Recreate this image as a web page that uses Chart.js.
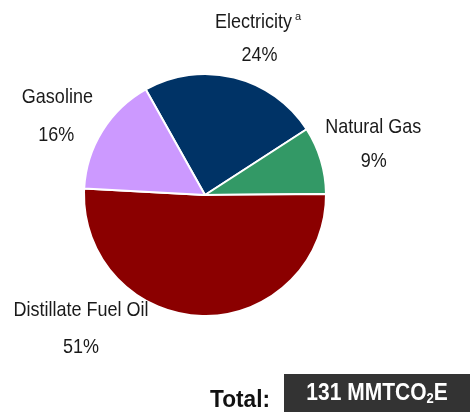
<!DOCTYPE html>
<html>
<head>
<meta charset="utf-8">
<script src="https://cdn.jsdelivr.net/npm/chart.js@4"></script>
<style>
  body { margin: 0; background: #fff; }
  #wrap { position: relative; width: 470px; height: 412px; overflow: hidden; }
  #total-label {
    position: absolute; left: 210px; top: 385px;
    font: bold 21px "Liberation Sans", Arial, sans-serif; color: #111;
    transform: scale(1.08, 1.15); transform-origin: left top;
  }
  #total-box {
    position: absolute; left: 284px; top: 374px; width: 186px; height: 38px;
    background: #333333; color: #fff; text-align: center;
    font: bold 21px "Liberation Sans", Arial, sans-serif; line-height: 36px;
  }
  #total-box span { display: inline-block; transform: scaleY(1.12); }
  #total-box sub { font-size: 13px; vertical-align: -3px; line-height: 0; }
</style>
</head>
<body>
<div id="wrap">
  <canvas id="pie" width="470" height="412"></canvas>
  <div id="total-label">Total:</div>
  <div id="total-box"><span>131 MMTCO<sub>2</sub>E</span></div>
</div>
<script>
const categories = ['Electricity', 'Natural Gas', 'Distillate Fuel Oil', 'Gasoline'];
const shares = [24, 9, 51, 16];
const sliceColors = ['#003366', '#339966', '#8b0000', '#cc99ff'];

// label placement, in units of the pie radius from its centre
const labelSpots = [
    { name: [0.40, -1.43], pct: [0.45, -1.155], sup: 'a' },
    { name: [1.39, -0.555], pct: [1.395, -0.28] },
    { name: [-1.025, 0.955], pct: [-1.025, 1.26] },
    { name: [-1.22, -0.81], pct: [-1.23, -0.495] }
];

const pieLabels = {
    id: 'pieLabels',
    afterDatasetsDraw(chart) {
        const arc = chart.getDatasetMeta(0).data[0];
        if (!arc) return;
        const cx = arc.x, cy = arc.y, r = arc.outerRadius;
        const total = shares.reduce((a, b) => a + b, 0);
        const ctx = chart.ctx;
        ctx.save();
        ctx.fillStyle = '#1a1a1a';
        ctx.textAlign = 'center';
        ctx.textBaseline = 'middle';
        ctx.font = '18px "Liberation Sans", Arial, sans-serif';
        const put = (txt, x, y) => {
            ctx.save();
            ctx.translate(x, y);
            ctx.scale(1, 1.12);
            ctx.fillText(txt, 0, 0);
            ctx.restore();
        };
        categories.forEach((name, i) => {
            const s = labelSpots[i];
            const nx = cx + s.name[0] * r, ny = cy + s.name[1] * r;
            put(name, nx, ny);
            if (s.sup) {
                const w = ctx.measureText(name).width;
                ctx.save();
                ctx.font = '11px "Liberation Sans", Arial, sans-serif';
                ctx.textAlign = 'left';
                ctx.fillText(s.sup, nx + w / 2 + 3, ny - 5);
                ctx.restore();
            }
            const pct = Math.round(shares[i] / total * 100) + '%';
            put(pct, cx + s.pct[0] * r, cy + s.pct[1] * r);
        });
        ctx.restore();
    }
};

new Chart(document.getElementById('pie'), {
    type: 'pie',
    data: {
        labels: categories,
        datasets: [{
            data: shares,
            backgroundColor: sliceColors,
            borderColor: '#ffffff',
            borderWidth: 2
        }]
    },
    options: {
        responsive: false,
        animation: false,
        rotation: -29.3,
        layout: { padding: { left: 83, right: 143, top: 73, bottom: 95 } },
        plugins: {
            legend: { display: false },
            tooltip: { enabled: false }
        }
    },
    plugins: [pieLabels]
});
</script>
</body>
</html>
